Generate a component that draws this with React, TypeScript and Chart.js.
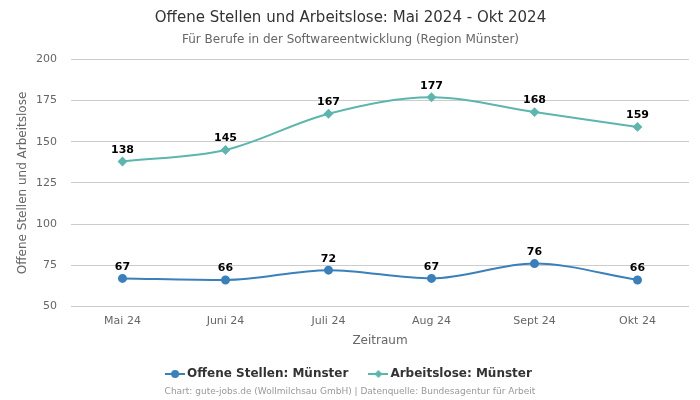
import React, { useEffect, useRef } from "react";
import { Chart, registerables } from "chart.js";

Chart.register(...registerables);

const categories = ["Mai 24", "Juni 24", "Juli 24", "Aug 24", "Sept 24", "Okt 24"];
const offeneStellen = [67, 66, 72, 67, 76, 66];
const arbeitslose = [138, 145, 167, 177, 168, 159];
const yTicks = { min: 50, max: 200, step: 25 };

const BLUE = "#3a80ba";
const TEAL = "#5cb6ad";
const FONT = "'DejaVu Sans', sans-serif";

function legendIcon(color: string, diamond: boolean) {
  const c = document.createElement("canvas");
  c.width = 20;
  c.height = 10;
  const ctx = c.getContext("2d")!;
  ctx.strokeStyle = color;
  ctx.lineWidth = 2;
  ctx.beginPath();
  ctx.moveTo(0, 5);
  ctx.lineTo(20, 5);
  ctx.stroke();
  ctx.fillStyle = color;
  ctx.beginPath();
  if (diamond) {
    ctx.moveTo(10, 1);
    ctx.lineTo(14, 5);
    ctx.lineTo(10, 9);
    ctx.lineTo(6, 5);
    ctx.closePath();
  } else {
    ctx.arc(10, 5, 4, 0, Math.PI * 2);
  }
  ctx.fill();
  return c;
}

const labelPlugin = {
  id: "pointLabels",
  afterDatasetsDraw(chart: any) {
    const ctx = chart.ctx;
    ctx.save();
    ctx.font = `bold 11px ${FONT}`;
    ctx.fillStyle = "#000";
    ctx.textAlign = "center";
    ctx.textBaseline = "bottom";
    chart.data.datasets.forEach((ds: any, i: number) => {
      const meta = chart.getDatasetMeta(i);
      meta.data.forEach((pt: any, j: number) => {
        ctx.fillText(String(ds.data[j]), pt.x, pt.y - 6);
      });
    });
    ctx.restore();
  },
};

const sourcePlugin = {
  id: "sourceText",
  afterDraw(chart: any) {
    const ctx = chart.ctx;
    ctx.save();
    ctx.font = `9px ${FONT}`;
    ctx.fillStyle = "#999";
    ctx.textAlign = "center";
    ctx.textBaseline = "middle";
    ctx.fillText(
      "Chart: gute-jobs.de (Wollmilchsau GmbH) | Datenquelle: Bundesagentur für Arbeit",
      chart.width / 2,
      392
    );
    ctx.restore();
  },
};

export default function App() {
  const ref = useRef<HTMLCanvasElement>(null);
  useEffect(() => {
    const chart = new Chart(ref.current!, {
      type: "line",
      data: {
        labels: categories,
        datasets: [
          {
            label: "Offene Stellen: Münster",
            data: offeneStellen,
            borderColor: BLUE,
            backgroundColor: BLUE,
            borderWidth: 2,
            pointStyle: "circle",
            pointRadius: 3.5,
            cubicInterpolationMode: "monotone",
          },
          {
            label: "Arbeitslose: Münster",
            data: arbeitslose,
            borderColor: TEAL,
            backgroundColor: TEAL,
            borderWidth: 2,
            pointStyle: "rectRot",
            pointRadius: 3.5,
            cubicInterpolationMode: "monotone",
          },
        ],
      },
      options: {
        animation: false,
        responsive: false,
        layout: { padding: { left: 12, right: 11, top: 0, bottom: 10 } },
        plugins: {
          title: {
            display: true,
            text: "Offene Stellen und Arbeitslose: Mai 2024 - Okt 2024",
            color: "#333",
            font: { family: FONT, size: 15, weight: "normal" },
            padding: { top: 9, bottom: 6 },
          },
          subtitle: {
            display: true,
            text: "Für Berufe in der Softwareentwicklung (Region Münster)",
            color: "#666",
            font: { family: FONT, size: 12 },
            padding: { bottom: 12 },
          },
          legend: {
            position: "bottom",
            labels: {
              usePointStyle: true,
              color: "#333",
              font: { family: FONT, size: 12, weight: "bold" },
              padding: 24,
              generateLabels: (chart: any) =>
                chart.data.datasets.map((ds: any, i: number) => ({
                  text: ds.label,
                  fillStyle: ds.borderColor,
                  strokeStyle: ds.borderColor,
                  pointStyle: legendIcon(ds.borderColor, i === 1),
                  datasetIndex: i,
                  hidden: false,
                  fontColor: "#333",
                })),
            },
          },
          tooltip: { enabled: false },
        },
        scales: {
          x: {
            offset: true,
            grid: { display: false, drawTicks: false },
            border: { display: false },
            ticks: { color: "#666", font: { family: FONT, size: 11 }, padding: 8 },
            title: {
              display: true,
              text: "Zeitraum",
              color: "#666",
              font: { family: FONT, size: 12 },
              padding: { top: -2, bottom: -4 },
            },
          },
          y: {
            min: yTicks.min,
            max: yTicks.max,
            grid: { color: "#ccc", drawTicks: false },
            border: { display: false },
            afterFit: (scale: any) => {
              scale.width = 59;
            },
            ticks: {
              stepSize: yTicks.step,
              color: "#666",
              font: { family: FONT, size: 11 },
              padding: 14,
            },
            title: {
              display: true,
              text: "Offene Stellen und Arbeitslose",
              color: "#666",
              font: { family: FONT, size: 12 },
              padding: 4,
            },
          },
        },
      },
      plugins: [labelPlugin, sourcePlugin],
    } as any);
    return () => chart.destroy();
  }, []);
  return (
    <div style={{ position: "fixed", left: 0, top: 0, width: 700, height: 400, background: "#fff" }}>
      <canvas ref={ref} width={700} height={400} />
    </div>
  );
}
